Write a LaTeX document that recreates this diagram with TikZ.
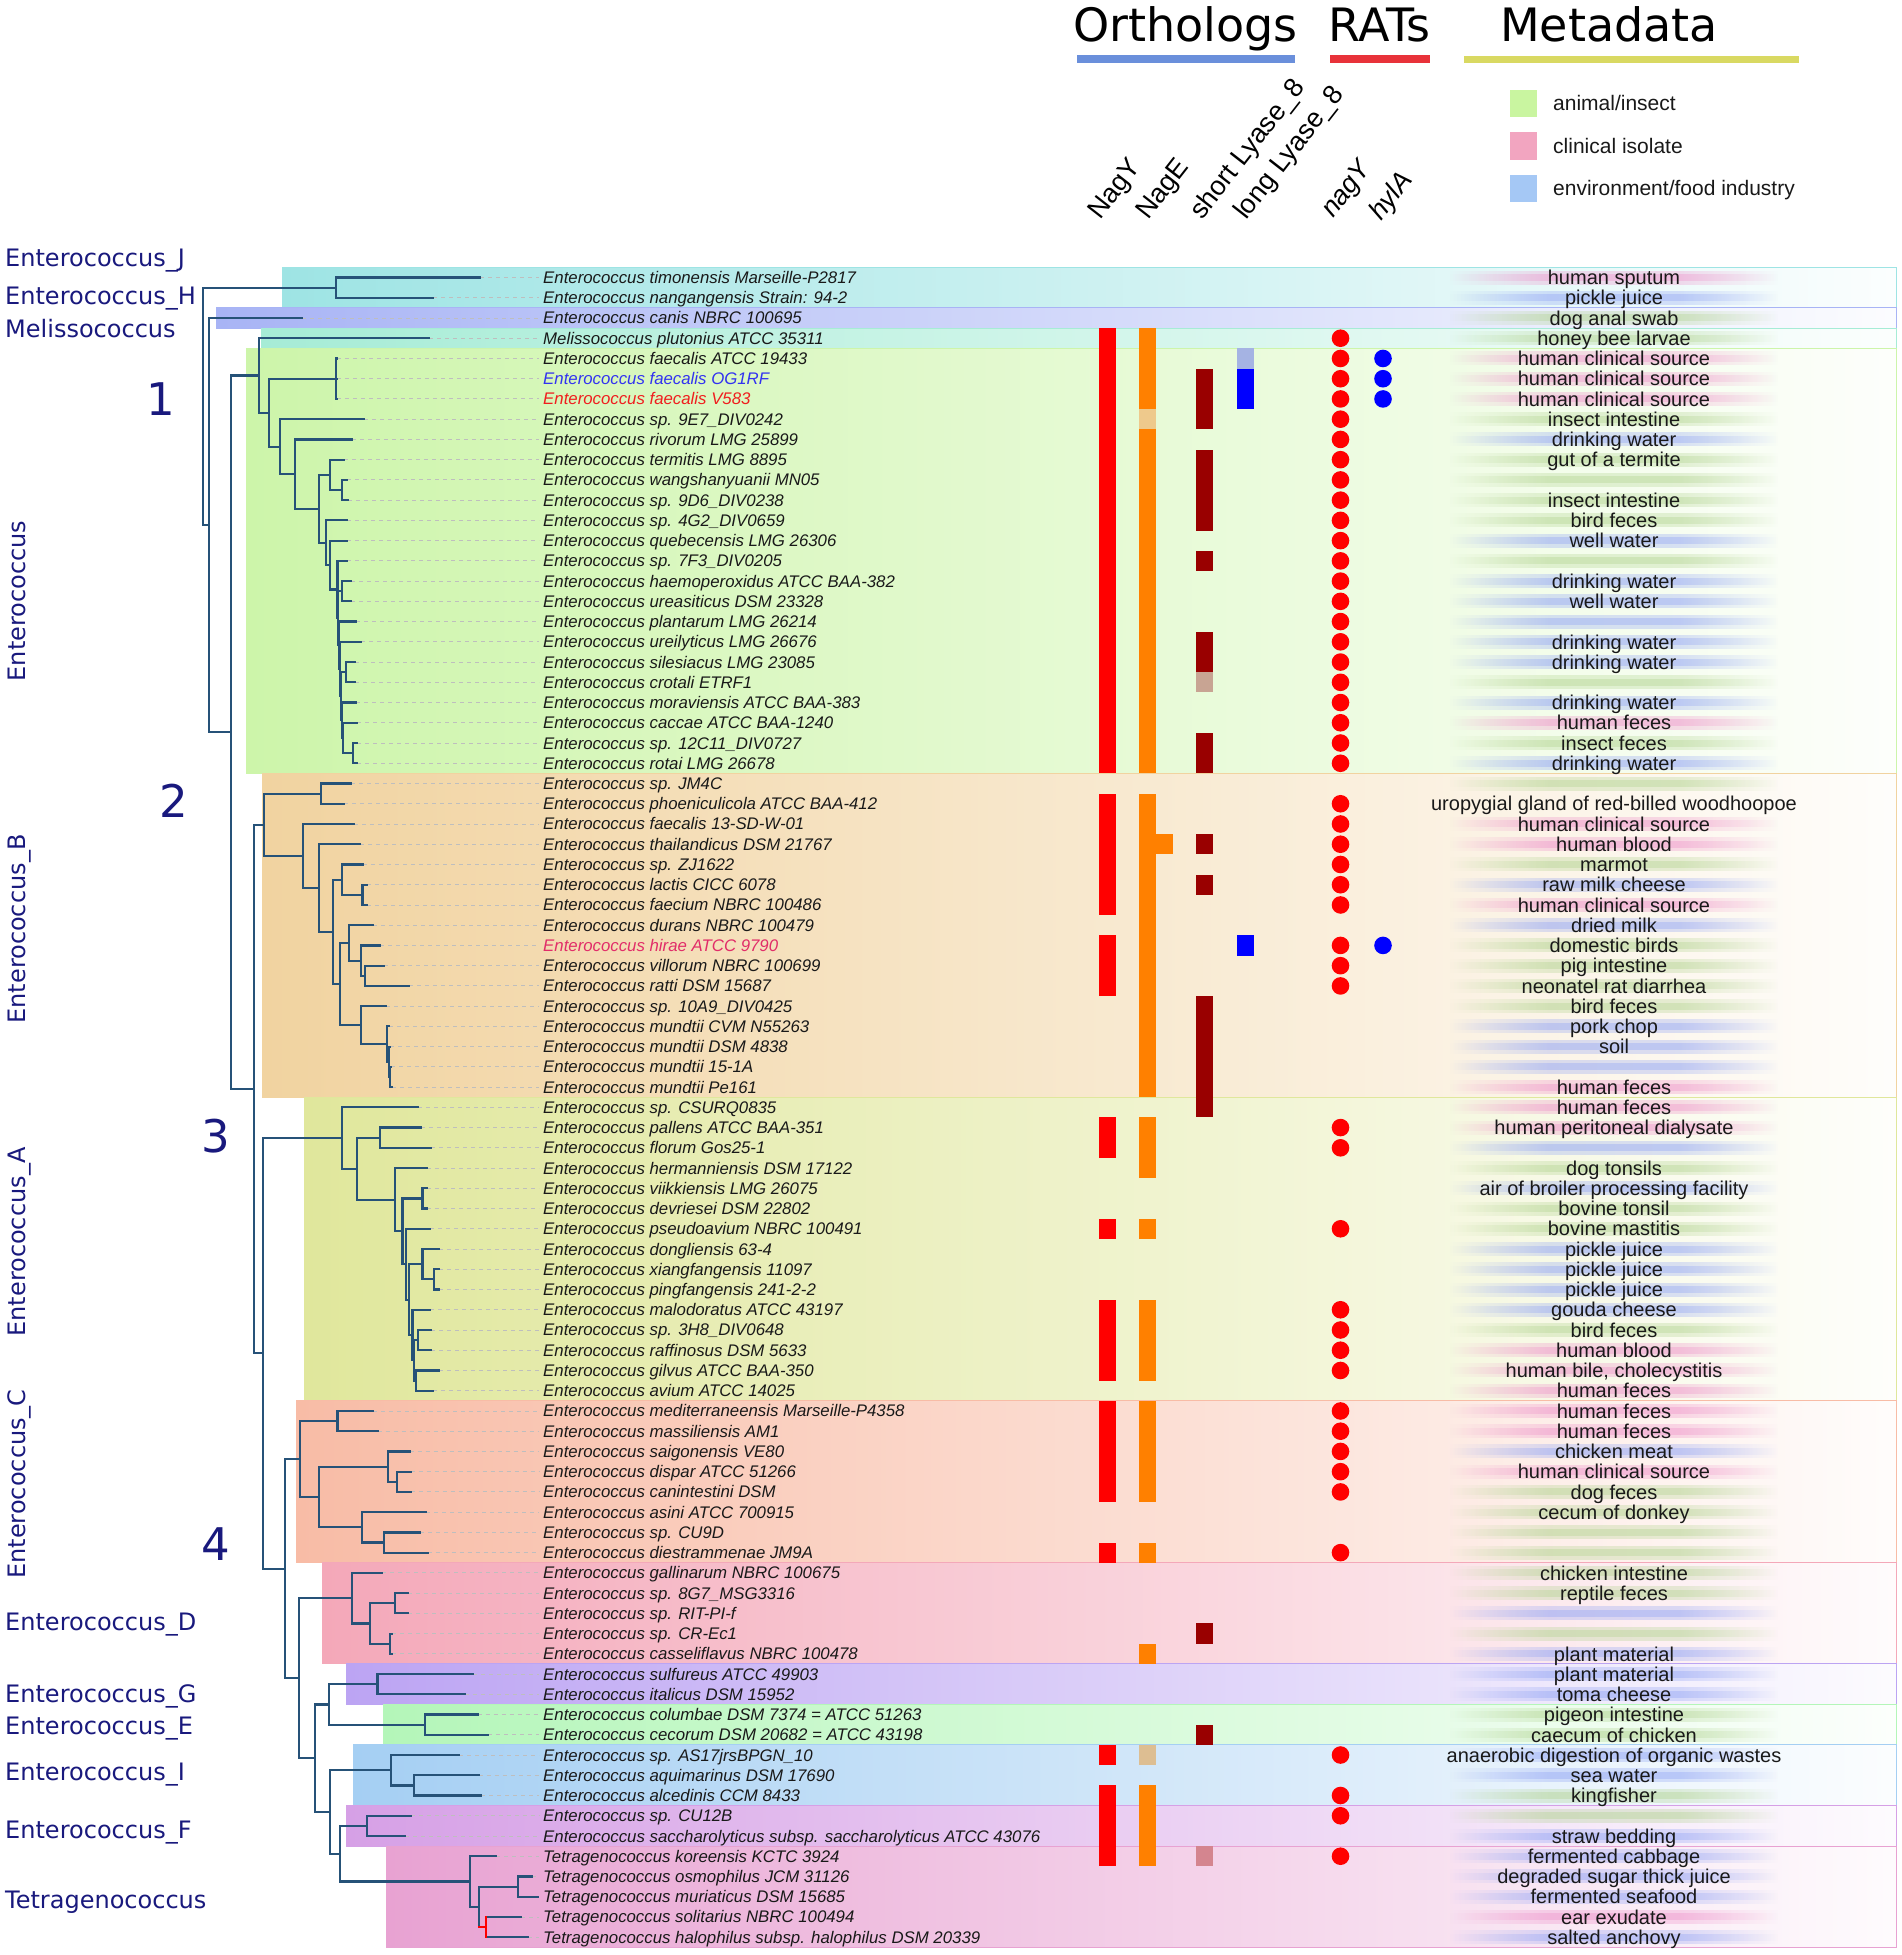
\documentclass[tikz,border=0pt]{standalone}
\usepackage{fontspec}
\setmainfont{Liberation Sans}
\newfontfamily\dejavu{DejaVu Sans}
\usetikzlibrary{calc,fadings}
\pgfdeclarehorizontalshading{strksh}{100bp}{color(0bp)=(pgftransparent!100); color(25bp)=(pgftransparent!100); color(40bp)=(pgftransparent!0); color(60bp)=(pgftransparent!0); color(75bp)=(pgftransparent!100); color(100bp)=(pgftransparent!100)}
\pgfdeclarefading{strkfade}{\pgfuseshading{strksh}}
\definecolor{treec}{RGB}{38,82,120}
\definecolor{navy}{RGB}{25,25,125}
\definecolor{leadc}{RGB}{190,190,190}
\definecolor{labc}{RGB}{25,25,25}
\definecolor{ogblue}{RGB}{50,50,240}
\definecolor{vred}{RGB}{240,30,30}
\definecolor{hirc}{RGB}{225,45,105}
\definecolor{bxJH}{RGB}{158,228,228}
\definecolor{bxCan}{RGB}{168,180,245}
\definecolor{bxMel}{RGB}{166,236,214}
\definecolor{bxEnt}{RGB}{205,245,170}
\definecolor{bxB}{RGB}{241,211,160}
\definecolor{bxA}{RGB}{224,231,156}
\definecolor{bxC}{RGB}{248,188,166}
\definecolor{bxD}{RGB}{244,168,185}
\definecolor{bxG}{RGB}{188,164,243}
\definecolor{bxE}{RGB}{180,246,185}
\definecolor{bxI}{RGB}{165,207,243}
\definecolor{bxF}{RGB}{214,160,230}
\definecolor{bxT}{RGB}{232,162,210}
\definecolor{stP}{RGB}{238,140,200}
\definecolor{stB}{RGB}{140,160,245}
\definecolor{stG}{RGB}{175,210,140}
\definecolor{lgG}{RGB}{201,245,160}
\definecolor{lgP}{RGB}{242,165,192}
\definecolor{lgB}{RGB}{165,200,245}
\definecolor{hbBlue}{RGB}{106,143,219}
\definecolor{hbRed}{RGB}{232,50,58}
\definecolor{hbYel}{RGB}{217,217,98}
\definecolor{cRed}{RGB}{255,0,0}
\definecolor{cOr}{RGB}{255,128,0}
\definecolor{cDk}{RGB}{153,0,0}
\definecolor{cTanA}{RGB}{238,201,140}
\definecolor{cTanB}{RGB}{221,190,146}
\definecolor{cBrn}{RGB}{200,164,147}
\definecolor{cPk}{RGB}{212,133,143}
\definecolor{cLb}{RGB}{165,179,227}
\definecolor{cBl}{RGB}{0,0,255}
\newcommand\rowy[1]{(277.5+(#1-1)*20.24)}
\newcommand\cladebox[4]{%
  \shade[left color=#1, right color=#1!4!white] (#2,{\rowy{#3}-10.12}) rectangle (1896,{\rowy{#4}+10.12});
  \draw[draw=#1, line width=1pt] (#2,{\rowy{#3}-10.12}) rectangle (1896,{\rowy{#4}+10.12});}
\newcommand\colbar[4]{\fill[fill=#1] (#2,{\rowy{#3}-10.12}) rectangle ({#2+17},{\rowy{#4}+10.12});}
\newcommand\rdot[3]{\fill[fill=#1] (#2,{\rowy{#3}}) circle[radius=8.8pt];}
\newcommand\strk[2]{%
  \fill[fill=#2, fill opacity=0.3, path fading=strkfade] (1450,{\rowy{#1}-7}) rectangle (1778,{\rowy{#1}+7});
  \fill[fill=#2, fill opacity=0.35, path fading=strkfade] (1450,{\rowy{#1}-3.5}) rectangle (1778,{\rowy{#1}+3.5});}
\newcommand\mtxt[2]{\node[metatxt] (m#1) at (1614,{\rowy{#1}+7.2}) {#2};}
\newcommand\species[3][labc]{\node[splabel, text=#1] (s#2) at (543,{\rowy{#2}+6}) {#3};}
\newcommand\treenode[4]{%
  \path let \p1=(#3), \p2=(#4) in coordinate (#1) at (#2pt,{0.5*(\y1)+0.5*(\y2)});
  \draw[treeln] (#1 |- #3) -- (#1 |- #4);
  \draw[treeln] (#1 |- #3) -- (#3);
  \draw[treeln] (#1 |- #4) -- (#4);}
\begin{document}
\begin{tikzpicture}[x=1pt,y=-1pt,
  treeln/.style={draw=treec, line width=2.2pt, line cap=rect},
  leader/.style={draw=leadc, line width=0.9pt, dash pattern=on 4pt off 4pt},
  splabel/.style={anchor=base west, inner sep=0pt, font=\fontsize{16.8}{18}\selectfont\itshape},
  metatxt/.style={anchor=base, inner sep=0pt, font=\fontsize{20}{22}\selectfont, text=labc},
  cladelab/.style={anchor=base west, inner sep=0pt, font=\dejavu\fontsize{24}{28}\selectfont, text=navy},
  numlab/.style={inner sep=0pt, font=\dejavu\fontsize{45}{48}\selectfont, text=navy},
  hdr/.style={anchor=base west, inner sep=0pt, font=\dejavu\fontsize{46}{50}\selectfont, text=black},
  collab/.style={anchor=base west, inner sep=0pt, rotate=52, font=\fontsize{27}{30}\selectfont, text=black},
  legtxt/.style={anchor=base west, inner sep=0pt, font=\fontsize{21}{24}\selectfont, text=labc}]
\useasboundingbox (0,0) rectangle (1902,1955);
\fill[white] (0,0) rectangle (1902,1955);

% ---------- header ----------
\node[hdr] (hOrth) at (1073,41) {Orthologs};
\node[hdr] (hRats) at (1328,41) {RATs};
\node[hdr] (hMeta) at (1500,41) {Metadata};
\fill[hbBlue] (1077,55) rectangle (1295,63);
\fill[hbRed] (1330,55) rectangle (1430,63);
\fill[hbYel] (1464,56) rectangle (1799,63);
\node[collab] (cNagY) at (1100,221) {NagY};
\node[collab] (cNagE) at (1148,221) {NagE};
\node[collab] (cShort) at (1202,221) {short Lyase\_8};
\node[collab] (cLong) at (1246,221) {long Lyase\_8};
\node[collab, font=\fontsize{27}{30}\selectfont\itshape] (cnagY) at (1333,219) {nagY};
\node[collab, font=\fontsize{27}{30}\selectfont\itshape] (chylA) at (1381,222) {hylA};
\fill[lgG] (1510,90) rectangle (1537,117);
\fill[lgP] (1510,132) rectangle (1537,160);
\fill[lgB] (1510,175) rectangle (1537,202);
\node[legtxt] (lg1) at (1553,110.5) {animal/insect};
\node[legtxt] (lg2) at (1553,153) {clinical isolate};
\node[legtxt] (lg3) at (1553,195.5) {environment/food industry};

% ---------- clade boxes ----------
\cladebox{bxJH}{282}{1}{2}
\cladebox{bxCan}{216}{3}{3}
\cladebox{bxMel}{261}{4}{4}
\cladebox{bxEnt}{246}{5}{25}
\cladebox{bxB}{262.5}{26}{41}
\cladebox{bxA}{304}{42}{56}
\cladebox{bxC}{296}{57}{64}
\cladebox{bxD}{322.5}{65}{69}
\cladebox{bxG}{346}{70}{71}
\cladebox{bxE}{383}{72}{73}
\cladebox{bxI}{353}{74}{76}
\cladebox{bxF}{346}{77}{78}
\cladebox{bxT}{386}{79}{83}

% ---------- metadata streaks ----------
\foreach \r/\cc in {1/stP,2/stB,3/stG,4/stG,5/stP,6/stP,7/stP,8/stG,9/stB,10/stG,11/stG,12/stG,13/stG,14/stB,15/stG,16/stB,17/stB,18/stB,19/stB,20/stB,21/stG,22/stB,23/stP,24/stG,25/stB,26/stG,28/stP,29/stP,30/stG,31/stB,32/stP,33/stB,34/stG,35/stG,36/stG,37/stG,38/stB,39/stB,40/stB,41/stP,42/stP,43/stP,44/stB,45/stG,46/stB,47/stG,48/stG,49/stB,50/stB,51/stB,52/stB,53/stG,54/stP,55/stP,56/stP,57/stP,58/stP,59/stB,60/stP,61/stG,62/stG,63/stG,64/stG,65/stG,66/stG,67/stB,68/stG,69/stB,70/stB,71/stB,72/stG,73/stG,74/stB,75/stB,76/stG,77/stG,78/stB,79/stB,80/stB,81/stB,82/stP,83/stB}{\strk{\r}{\cc}}

% ---------- leaves ----------
\foreach \i/\xe in {1/480,2/433,3/302,4/429,5/337,6/337,7/337,8/364,9/352,10/344,11/347,12/348,13/347,14/347,15/347,16/351,17/351,18/356,19/361,20/355,21/355,22/356,23/357,24/357,25/357,26/351,27/344,28/354,29/360,30/363,31/367,32/367,33/373,34/380,35/384,36/409,37/386,38/389,39/390,40/391,41/392,42/418,43/421,44/431,45/427,46/427,47/427,48/430,49/439,50/439,51/439,52/430,53/431,54/431,55/439,56/433,57/373,58/377.5,59/409.6,60/410.7,61/410.7,62/426,63/420,64/427.5,65/382,66/408,67/408,68/392,69/392,70/473,71/465,72/477.5,73/488,74/459,75/478.6,76/481,77/410.7,78/405,79/496,80/532,81/538,82/521,83/528}
  {\coordinate (L\i) at (\xe,{277.5+(\i-1)*20.24});}

% ---------- species labels ----------
\species{1}{Enterococcus timonensis Marseille-P2817}
\species{2}{Enterococcus nangangensis Strain: 94-2}
\species{3}{Enterococcus canis NBRC 100695}
\species{4}{Melissococcus plutonius ATCC 35311}
\species{5}{Enterococcus faecalis ATCC 19433}
\species[ogblue]{6}{Enterococcus faecalis OG1RF}
\species[vred]{7}{Enterococcus faecalis V583}
\species{8}{Enterococcus sp. 9E7\_DIV0242}
\species{9}{Enterococcus rivorum LMG 25899}
\species{10}{Enterococcus termitis LMG 8895}
\species{11}{Enterococcus wangshanyuanii MN05}
\species{12}{Enterococcus sp. 9D6\_DIV0238}
\species{13}{Enterococcus sp. 4G2\_DIV0659}
\species{14}{Enterococcus quebecensis LMG 26306}
\species{15}{Enterococcus sp. 7F3\_DIV0205}
\species{16}{Enterococcus haemoperoxidus ATCC BAA-382}
\species{17}{Enterococcus ureasiticus DSM 23328}
\species{18}{Enterococcus plantarum LMG 26214}
\species{19}{Enterococcus ureilyticus LMG 26676}
\species{20}{Enterococcus silesiacus LMG 23085}
\species{21}{Enterococcus crotali ETRF1}
\species{22}{Enterococcus moraviensis ATCC BAA-383}
\species{23}{Enterococcus caccae ATCC BAA-1240}
\species{24}{Enterococcus sp. 12C11\_DIV0727}
\species{25}{Enterococcus rotai LMG 26678}
\species{26}{Enterococcus sp. JM4C}
\species{27}{Enterococcus phoeniculicola ATCC BAA-412}
\species{28}{Enterococcus faecalis 13-SD-W-01}
\species{29}{Enterococcus thailandicus DSM 21767}
\species{30}{Enterococcus sp. ZJ1622}
\species{31}{Enterococcus lactis CICC 6078}
\species{32}{Enterococcus faecium NBRC 100486}
\species{33}{Enterococcus durans NBRC 100479}
\species[hirc]{34}{Enterococcus hirae ATCC 9790}
\species{35}{Enterococcus villorum NBRC 100699}
\species{36}{Enterococcus ratti DSM 15687}
\species{37}{Enterococcus sp. 10A9\_DIV0425}
\species{38}{Enterococcus mundtii CVM N55263}
\species{39}{Enterococcus mundtii DSM 4838}
\species{40}{Enterococcus mundtii 15-1A}
\species{41}{Enterococcus mundtii Pe161}
\species{42}{Enterococcus sp. CSURQ0835}
\species{43}{Enterococcus pallens ATCC BAA-351}
\species{44}{Enterococcus florum Gos25-1}
\species{45}{Enterococcus hermanniensis DSM 17122}
\species{46}{Enterococcus viikkiensis LMG 26075}
\species{47}{Enterococcus devriesei DSM 22802}
\species{48}{Enterococcus pseudoavium NBRC 100491}
\species{49}{Enterococcus dongliensis 63-4}
\species{50}{Enterococcus xiangfangensis 11097}
\species{51}{Enterococcus pingfangensis 241-2-2}
\species{52}{Enterococcus malodoratus ATCC 43197}
\species{53}{Enterococcus sp. 3H8\_DIV0648}
\species{54}{Enterococcus raffinosus DSM 5633}
\species{55}{Enterococcus gilvus ATCC BAA-350}
\species{56}{Enterococcus avium ATCC 14025}
\species{57}{Enterococcus mediterraneensis Marseille-P4358}
\species{58}{Enterococcus massiliensis AM1}
\species{59}{Enterococcus saigonensis VE80}
\species{60}{Enterococcus dispar ATCC 51266}
\species{61}{Enterococcus canintestini DSM}
\species{62}{Enterococcus asini ATCC 700915}
\species{63}{Enterococcus sp. CU9D}
\species{64}{Enterococcus diestrammenae JM9A}
\species{65}{Enterococcus gallinarum NBRC 100675}
\species{66}{Enterococcus sp. 8G7\_MSG3316}
\species{67}{Enterococcus sp. RIT-PI-f}
\species{68}{Enterococcus sp. CR-Ec1}
\species{69}{Enterococcus casseliflavus NBRC 100478}
\species{70}{Enterococcus sulfureus ATCC 49903}
\species{71}{Enterococcus italicus DSM 15952}
\species{72}{Enterococcus columbae DSM 7374 = ATCC 51263}
\species{73}{Enterococcus cecorum DSM 20682 = ATCC 43198}
\species{74}{Enterococcus sp. AS17jrsBPGN\_10}
\species{75}{Enterococcus aquimarinus DSM 17690}
\species{76}{Enterococcus alcedinis CCM 8433}
\species{77}{Enterococcus sp. CU12B}
\species{78}{Enterococcus saccharolyticus subsp. saccharolyticus ATCC 43076}
\species{79}{Tetragenococcus koreensis KCTC 3924}
\species{80}{Tetragenococcus osmophilus JCM 31126}
\species{81}{Tetragenococcus muriaticus DSM 15685}
\species{82}{Tetragenococcus solitarius NBRC 100494}
\species{83}{Tetragenococcus halophilus subsp. halophilus DSM 20339}

% ---------- leader lines ----------
\foreach \i in {1,...,83}{\draw[leader] (L\i) -- ($(L\i -| s\i.west)+(-4,0)$);}

% ---------- tree ----------
\treenode{JH}{336}{L1}{L2}
\treenode{Fc}{336}{L5}{L7}
\draw[treeln] (Fc |- L6) -- (L6);
\treenode{E5b}{342}{L11}{L12}
\treenode{E5}{330}{L10}{E5b}
\treenode{E10}{342}{L16}{L17}
\treenode{E14}{346}{L20}{L21}
\treenode{E17}{353}{L24}{L25}
\treenode{E16}{343}{L23}{E17}
\treenode{E15}{342}{L22}{E16}
\treenode{E13}{341}{E14}{E15}
\treenode{E12}{340}{L19}{E13}
\treenode{E11}{339}{L18}{E12}
\treenode{E9}{338}{E10}{E11}
\treenode{E8}{337.5}{L15}{E9}
\treenode{E7}{330}{L14}{E8}
\treenode{E6}{326}{L13}{E7}
\treenode{E4}{319}{E5}{E6}
\treenode{E3}{295}{L9}{E4}
\treenode{E2}{280}{L8}{E3}
\treenode{E1}{269}{Fc}{E2}
\treenode{M}{259}{L4}{E1}
\treenode{B1}{321}{L26}{L27}
\treenode{B5b}{362.5}{L31}{L32}
\treenode{B5}{342}{L30}{B5b}
\treenode{B10}{365}{L35}{L36}
\treenode{B9}{361}{L34}{B10}
\treenode{B7}{349}{L33}{B9}
\treenode{B13}{390}{L40}{L41}
\treenode{B12}{389}{L39}{B13}
\treenode{B11}{387}{L38}{B12}
\treenode{B8}{361}{L37}{B11}
\treenode{B6}{340}{B7}{B8}
\treenode{B4}{333}{B5}{B6}
\treenode{B3}{319}{L29}{B4}
\treenode{B2}{303}{L28}{B3}
\treenode{B0}{264}{B1}{B2}
\treenode{CA3}{380}{L43}{L44}
\treenode{CA6}{422.5}{L46}{L47}
\treenode{CA10}{434}{L50}{L51}
\treenode{CA9}{422.5}{L49}{CA10}
\treenode{CA13}{418}{L53}{L54}
\treenode{CA14}{416}{L55}{L56}
\treenode{CA12}{414}{CA13}{CA14}
\treenode{CA11}{412.5}{L52}{CA12}
\treenode{CA8}{409}{CA9}{CA11}
\treenode{CA7}{406}{L48}{CA8}
\treenode{CA5}{402.5}{CA6}{CA7}
\treenode{CA4}{395}{L45}{CA5}
\treenode{CA2}{357}{CA3}{CA4}
\treenode{CA}{342}{L42}{CA2}
\treenode{CC1}{337.5}{L57}{L58}
\treenode{CC3b}{397}{L60}{L61}
\treenode{CC3}{388}{L59}{CC3b}
\treenode{CC5}{384}{L63}{L64}
\treenode{CC4}{362}{L62}{CC5}
\treenode{CC2}{319}{CC3}{CC4}
\treenode{CC}{300}{CC1}{CC2}
\treenode{CD2}{395}{L66}{L67}
\treenode{CD3}{390}{L68}{L69}
\treenode{CD1}{370}{CD2}{CD3}
\treenode{CD}{352}{L65}{CD1}
\treenode{CG}{377.5}{L70}{L71}
\treenode{CE}{425}{L72}{L73}
\treenode{A8}{328.6}{CG}{CE}
\treenode{CI1}{413.6}{L75}{L76}
\treenode{CI}{391}{L74}{CI1}
\treenode{CF}{367}{L77}{L78}
\treenode{CT2}{518}{L80}{L81}
\path let \p1=(L82), \p2=(L83) in coordinate (CT3) at (486pt,{0.5*(\y1)+0.5*(\y2)});
\draw[treeln] (CT3 |- L82) -- (L82);
\draw[treeln] (CT3 |- L83) -- (L83);
\draw[treeln, draw=red] (CT3 |- L82) -- (CT3 |- L83);
\path let \p1=(CT2), \p2=(CT3) in coordinate (CT1) at (478.6pt,{0.5*(\y1)+0.5*(\y2)});
\draw[treeln] (CT1 |- CT2) -- (CT1 |- CT3);
\draw[treeln] (CT1 |- CT2) -- (CT2);
\draw[treeln, draw=red] (CT1 |- CT3) -- (CT3);
\treenode{CT}{469.6}{L79}{CT1}
\treenode{A10}{340}{CF}{CT}
\treenode{A9}{329.6}{CI}{A10}
\treenode{A7}{315}{A8}{A9}
\treenode{A6}{298.6}{CD}{A7}
\treenode{A5}{285}{CC}{A6}
\treenode{A4}{263}{CA}{A5}
\treenode{A3}{253.6}{B0}{A4}
\treenode{A2}{231}{M}{A3}
\treenode{A1}{209}{L3}{A2}
\treenode{R}{203}{JH}{A1}

% ---------- clade labels ----------
\node[cladelab] (kJ) at (5,266.7) {Enterococcus\_J};
\node[cladelab] (kH) at (5,304.3) {Enterococcus\_H};
\node[cladelab] (kMel) at (5,337.4) {Melissococcus};
\node[cladelab, anchor=base, rotate=90] (kEnt) at (25,601) {Enterococcus};
\node[cladelab, anchor=base, rotate=90] (kB) at (25,929) {Enterococcus\_B};
\node[cladelab, anchor=base, rotate=90] (kA) at (25,1242) {Enterococcus\_A};
\node[cladelab, anchor=base, rotate=90] (kC) at (25,1484) {Enterococcus\_C};
\node[cladelab] (kD) at (5,1630.8) {Enterococcus\_D};
\node[cladelab] (kG) at (5,1702.8) {Enterococcus\_G};
\node[cladelab] (kE) at (5,1734.8) {Enterococcus\_E};
\node[cladelab] (kI) at (5,1780.8) {Enterococcus\_I};
\node[cladelab] (kF) at (5,1838.8) {Enterococcus\_F};
\node[cladelab] (kT) at (5,1908.8) {Tetragenococcus};
\node[numlab] (n1) at (161,399) {1};
\node[numlab] (n2) at (174,801) {2};
\node[numlab] (n3) at (216,1136) {3};
\node[numlab] (n4) at (216,1544) {4};

% ---------- presence columns ----------
\colbar{cRed}{1099}{4}{25}
\colbar{cRed}{1099}{27}{32}
\colbar{cRed}{1099}{34}{36}
\colbar{cRed}{1099}{43}{44}
\colbar{cRed}{1099}{48}{48}
\colbar{cRed}{1099}{52}{55}
\colbar{cRed}{1099}{57}{61}
\colbar{cRed}{1099}{64}{64}
\colbar{cRed}{1099}{74}{74}
\colbar{cRed}{1099}{76}{79}
\colbar{cOr}{1139}{4}{7}
\colbar{cTanA}{1139}{8}{8}
\colbar{cOr}{1139}{9}{25}
\colbar{cOr}{1139}{27}{41}
\colbar{cOr}{1156}{29}{29}
\colbar{cOr}{1139}{43}{45}
\colbar{cOr}{1139}{48}{48}
\colbar{cOr}{1139}{52}{55}
\colbar{cOr}{1139}{57}{61}
\colbar{cOr}{1139}{64}{64}
\colbar{cOr}{1139}{69}{69}
\colbar{cTanB}{1139}{74}{74}
\colbar{cOr}{1139}{76}{79}
\colbar{cDk}{1196}{6}{8}
\colbar{cDk}{1196}{10}{13}
\colbar{cDk}{1196}{15}{15}
\colbar{cDk}{1196}{19}{20}
\colbar{cBrn}{1196}{21}{21}
\colbar{cDk}{1196}{24}{25}
\colbar{cDk}{1196}{29}{29}
\colbar{cDk}{1196}{31}{31}
\colbar{cDk}{1196}{37}{42}
\colbar{cDk}{1196}{68}{68}
\colbar{cDk}{1196}{73}{73}
\colbar{cPk}{1196}{79}{79}
\colbar{cLb}{1237}{5}{5}
\colbar{cBl}{1237}{6}{7}
\colbar{cBl}{1237}{34}{34}
\foreach \r in {4,...,25,27,28,29,30,31,32,34,35,36,43,44,48,52,53,54,55,57,58,59,60,61,64,74,76,77,79}{\rdot{cRed}{1340.5}{\r}}
\foreach \r in {5,6,7,34}{\rdot{cBl}{1383}{\r}}

% ---------- metadata text ----------
\mtxt{1}{human sputum}
\mtxt{2}{pickle juice}
\mtxt{3}{dog anal swab}
\mtxt{4}{honey bee larvae}
\mtxt{5}{human clinical source}
\mtxt{6}{human clinical source}
\mtxt{7}{human clinical source}
\mtxt{8}{insect intestine}
\mtxt{9}{drinking water}
\mtxt{10}{gut of a termite}
\mtxt{12}{insect intestine}
\mtxt{13}{bird feces}
\mtxt{14}{well water}
\mtxt{16}{drinking water}
\mtxt{17}{well water}
\mtxt{19}{drinking water}
\mtxt{20}{drinking water}
\mtxt{22}{drinking water}
\mtxt{23}{human feces}
\mtxt{24}{insect feces}
\mtxt{25}{drinking water}
\mtxt{27}{uropygial gland of red-billed woodhoopoe}
\mtxt{28}{human clinical source}
\mtxt{29}{human blood}
\mtxt{30}{marmot}
\mtxt{31}{raw milk cheese}
\mtxt{32}{human clinical source}
\mtxt{33}{dried milk}
\mtxt{34}{domestic birds}
\mtxt{35}{pig intestine}
\mtxt{36}{neonatel rat diarrhea}
\mtxt{37}{bird feces}
\mtxt{38}{pork chop}
\mtxt{39}{soil}
\mtxt{41}{human feces}
\mtxt{42}{human feces}
\mtxt{43}{human peritoneal dialysate}
\mtxt{45}{dog tonsils}
\mtxt{46}{air of broiler processing facility}
\mtxt{47}{bovine tonsil}
\mtxt{48}{bovine mastitis}
\mtxt{49}{pickle juice}
\mtxt{50}{pickle juice}
\mtxt{51}{pickle juice}
\mtxt{52}{gouda cheese}
\mtxt{53}{bird feces}
\mtxt{54}{human blood}
\mtxt{55}{human bile, cholecystitis}
\mtxt{56}{human feces}
\mtxt{57}{human feces}
\mtxt{58}{human feces}
\mtxt{59}{chicken meat}
\mtxt{60}{human clinical source}
\mtxt{61}{dog feces}
\mtxt{62}{cecum of donkey}
\mtxt{65}{chicken intestine}
\mtxt{66}{reptile feces}
\mtxt{69}{plant material}
\mtxt{70}{plant material}
\mtxt{71}{toma cheese}
\mtxt{72}{pigeon intestine}
\mtxt{73}{caecum of chicken}
\mtxt{74}{anaerobic digestion of organic wastes}
\mtxt{75}{sea water}
\mtxt{76}{kingfisher}
\mtxt{78}{straw bedding}
\mtxt{79}{fermented cabbage}
\mtxt{80}{degraded sugar thick juice}
\mtxt{81}{fermented seafood}
\mtxt{82}{ear exudate}
\mtxt{83}{salted anchovy}
\end{tikzpicture}
\end{document}
